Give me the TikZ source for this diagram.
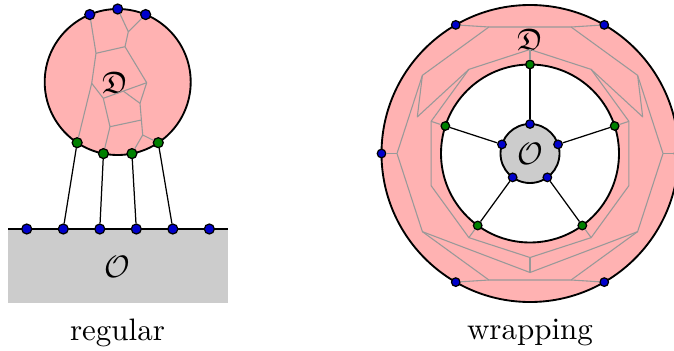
\documentclass[tikz,border=0pt]{standalone}
\usepackage{amssymb}
\usetikzlibrary{calc,positioning,backgrounds}

\tikzset{
  vertex/.style={circle, draw, inner sep=0pt, minimum size=0.113cm, line width=0.4pt},
  bvertex/.style={vertex, fill=blue!80!black},
  gvertex/.style={vertex, fill=green!50!black},
  smallvertex/.style={minimum size=0.097cm},
  cell/.style={gray!80, line width=0.35pt, line join=round},
  rim/.style={draw=black, semithick},
}

\begin{document}
\begin{tikzpicture}[x=0.01134cm, y=0.01134cm]
  \useasboundingbox (0,0) rectangle (674,350);

  % regular
  \coordinate (lc) at (117.7,268);
  \coordinate (bl) at (8,121);
  \coordinate (br) at (228,121);
  \node (ld) at (115,267) {$\mathfrak{D}$};
  \node (lo) at (117.5,83) {$\mathcal{O}$};
  \node (regular) at (117.5,17) {regular};

  \node[bvertex] (lt1) at ($(lc)+(67.5:73)$) {};
  \node[bvertex] (lt2) at ($(lc)+(90:73)$) {};
  \node[bvertex] (lt3) at ($(lc)+(112.5:73)$) {};
  \node[gvertex] (lg1) at ($(lc)+(236.25:73)$) {};
  \node[gvertex] (lg2) at ($(lc)+(258.75:73)$) {};
  \node[gvertex] (lg3) at ($(lc)+(281.25:73)$) {};
  \node[gvertex] (lg4) at ($(lc)+(303.75:73)$) {};
  \node[bvertex] (lb1) at (26.75,121) {};
  \node[bvertex, on grid, right = 0.414cm of lb1] (lb2) {};
  \node[bvertex, on grid, right = 0.414cm of lb2] (lb3) {};
  \node[bvertex, on grid, right = 0.414cm of lb3] (lb4) {};
  \node[bvertex, on grid, right = 0.414cm of lb4] (lb5) {};
  \node[bvertex, on grid, right = 0.414cm of lb5] (lb6) {};

  \coordinate (v1) at (96,296.7);
  \coordinate (v2) at (125,303.3);
  \coordinate (v3) at (128.3,318.3);
  \coordinate (v4) at (146.7,267.3);
  \coordinate (v5) at (91.7,266.7);
  \coordinate (v6) at (103.3,251.7);
  \coordinate (v7) at (140,246.7);
  \coordinate (v8) at (123.3,258.9);
  \coordinate (v9) at (142.7,215);
  \coordinate (v10) at (110,223.3);
  \coordinate (v11) at (141.4,230);

  \draw[cell] (lt3) -- (v1) -- (v5) -- (lg1);
  \draw[cell] (v1) -- (v2) -- (v3) -- (lt2);
  \draw[cell] (v3) -- (lt1);
  \draw[cell] (v2) -- (v4) -- (v7) -- (v11) -- (v9) -- (lg4);
  \draw[cell] (v9) -- (lg3);
  \draw[cell] (v5) -- (v6) -- (v8) -- (v4);
  \draw[cell] (v8) -- (v7);
  \draw[cell] (v6) -- (v10) -- (v11);
  \draw[cell] (v10) -- (lg2);

  \draw (lg1) -- (lb2);
  \draw (lg2) -- (lb3);
  \draw (lg3) -- (lb4);
  \draw (lg4) -- (lb5);

  % wrapping
  \coordinate (rc) at (530,196.5);
  \node (ro) at (rc) {$\mathcal{O}$};
  \node (rd) at ($(rc)+(90:114)$) {$\mathfrak{D}$};
  \node (wrapping) at (530,17) {wrapping};

  \coordinate (a0) at ($(rc)+(0:133)$);
  \coordinate (a36) at ($(rc)+(36:133)$);
  \coordinate (a72) at ($(rc)+(72:133)$);
  \coordinate (a108) at ($(rc)+(108:133)$);
  \coordinate (a144) at ($(rc)+(144:133)$);
  \coordinate (a180) at ($(rc)+(180:133)$);
  \coordinate (a216) at ($(rc)+(216:133)$);
  \coordinate (a252) at ($(rc)+(252:133)$);
  \coordinate (a288) at ($(rc)+(288:133)$);
  \coordinate (a324) at ($(rc)+(324:133)$);
  \coordinate (b18) at ($(rc)+(18:104)$);
  \coordinate (b54) at ($(rc)+(54:104)$);
  \coordinate (b90) at ($(rc)+(90:104)$);
  \coordinate (b126) at ($(rc)+(126:104)$);
  \coordinate (b162) at ($(rc)+(162:104)$);
  \coordinate (b198) at ($(rc)+(198:104)$);
  \coordinate (b234) at ($(rc)+(234:104)$);
  \coordinate (b270) at ($(rc)+(270:104)$);
  \coordinate (b306) at ($(rc)+(306:104)$);
  \coordinate (b342) at ($(rc)+(342:104)$);
  \coordinate (c18) at ($(rc)+(18:118.5)$);
  \coordinate (c162) at ($(rc)+(162:118.5)$);
  \coordinate (c270) at ($(rc)+(270:119)$);

  \node[bvertex, smallvertex] (o0) at ($(rc)+(0:148.5)$) {};
  \node[bvertex, smallvertex] (o60) at ($(rc)+(60:148.5)$) {};
  \node[bvertex, smallvertex] (o120) at ($(rc)+(120:148.5)$) {};
  \node[bvertex, smallvertex] (o180) at ($(rc)+(180:148.5)$) {};
  \node[bvertex, smallvertex] (o240) at ($(rc)+(240:148.5)$) {};
  \node[bvertex, smallvertex] (o300) at ($(rc)+(300:148.5)$) {};
  \node[gvertex, smallvertex] (g18) at ($(rc)+(18:89)$) {};
  \node[gvertex, smallvertex] (g90) at ($(rc)+(90:89)$) {};
  \node[gvertex, smallvertex] (g162) at ($(rc)+(162:89)$) {};
  \node[gvertex, smallvertex] (g234) at ($(rc)+(234:89)$) {};
  \node[gvertex, smallvertex] (g306) at ($(rc)+(306:89)$) {};
  \node[bvertex, smallvertex] (i18) at ($(rc)+(18:29.5)$) {};
  \node[bvertex, smallvertex] (i90) at ($(rc)+(90:29.5)$) {};
  \node[bvertex, smallvertex] (i162) at ($(rc)+(162:29.5)$) {};
  \node[bvertex, smallvertex] (i234) at ($(rc)+(234:29.5)$) {};
  \node[bvertex, smallvertex] (i306) at ($(rc)+(306:29.5)$) {};

  \draw[cell] (a0) -- (a36) -- (a72) -- (a108) -- (a144) -- (a180) -- (a216) -- (a252) -- (a288) -- (a324) -- cycle;
  \draw[cell] (b18) -- (b54) -- (b90) -- (b126) -- (b162) -- (b198) -- (b234) -- (b270) -- (b306) -- (b342) -- cycle;
  \draw[cell] (a144) -- (c162) -- (b126);
  \draw[cell] (a36) -- (c18) -- (b54);
  \draw[cell] (a216) -- (c270) -- (a324);
  \draw[cell] (c270) -- (b270);
  \draw[cell] (b18) -- (g18);
  \draw[cell] (b90) -- (g90);
  \draw[cell] (b162) -- (g162);
  \draw[cell] (b234) -- (g234);
  \draw[cell] (b306) -- (g306);
  \draw[cell] (o0) -- (a0);
  \draw[cell] (o60) -- (a72);
  \draw[cell] (o120) -- (a108);
  \draw[cell] (o180) -- (a180);
  \draw[cell] (o240) -- (a252);
  \draw[cell] (o300) -- (a288);

  \draw (i18) -- (g18);
  \draw (i90) -- (g90);
  \draw (i162) -- (g162);
  \draw (i234) -- (g234);
  \draw (i306) -- (g306);

  \begin{pgfonlayer}{background}
  \draw[rim, fill=red!30] (lc) circle (73);
  \fill[gray!40] (8,47.3) rectangle (br);
  \draw[rim] (bl) -- (br);
  \draw[rim, fill=red!30] (rc) circle (148.5);
  \draw[rim, fill=white] (rc) circle (89);
  \draw[rim, fill=gray!40] (rc) circle (29.5);
  \end{pgfonlayer}
\end{tikzpicture}
\end{document}
